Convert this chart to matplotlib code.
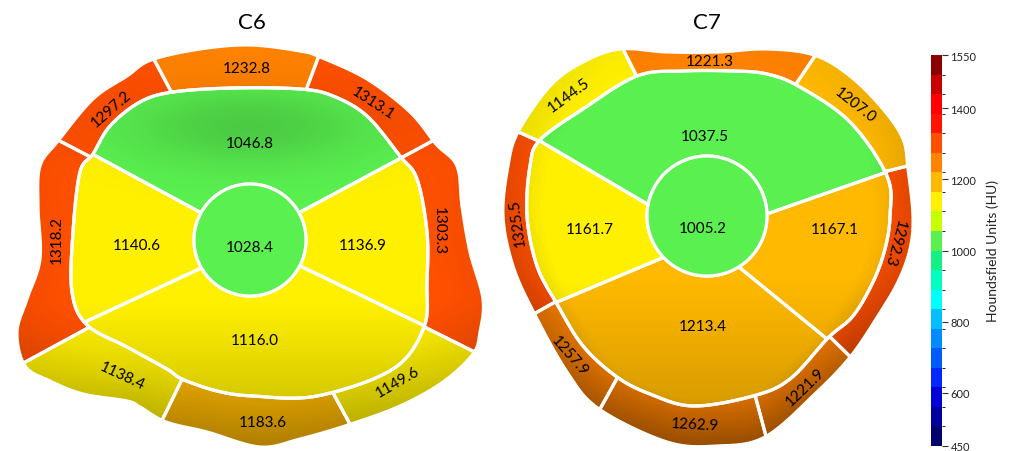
import numpy as np
import matplotlib
matplotlib.use("Agg")
import matplotlib.pyplot as plt
from matplotlib.colors import ListedColormap, BoundaryNorm
from matplotlib.patches import Polygon, Circle
from matplotlib.path import Path
import matplotlib.colorbar as mcolorbar

# ---------------------------------------------------------------------------
# Mean bone density (HU) per region of each vertebral body
# inner sectors: anterior (top), left, posterior (bottom), right
# outer ring: counter-clockwise starting from the upper right segment
# ---------------------------------------------------------------------------
levels = ["C6", "C7"]

c6_core = 1028.4
c6_inner = [1046.8, 1140.6, 1116.0, 1136.9]
c6_outer = [1313.1, 1232.8, 1297.2, 1318.2, 1138.4, 1183.6, 1149.6, 1303.3]

c7_core = 1005.2
c7_inner = [1037.5, 1161.7, 1213.4, 1167.1]
c7_outer = [1207.0, 1221.3, 1144.5, 1325.5, 1257.9, 1262.9, 1221.9, 1292.3]

hu_min, hu_max = 450, 1550
cbar_ticks = [450, 600, 800, 1000, 1200, 1400, 1550]
cbar_label = "Houndsfield Units (HU)"

# banded rainbow scale (20 bands, low -> high)
band_colors = [
    "#00006e", "#0000a0", "#0000d7", "#0028ff", "#005aff",
    "#008cff", "#00beff", "#00ffff", "#00ffbe", "#14f082",
    "#5af050", "#c8ff00", "#fff000", "#ffb900", "#ff8200",
    "#ff5000", "#ff1400", "#ff0000", "#c80000", "#8c0000",
]

# ---------------------------------------------------------------------------
# Outline geometry and annotation layout (figure pixel space, y downwards)
# ---------------------------------------------------------------------------
shapes = {
    "C6": dict(
        center=(250, 241), core_r=56, title_xy=(252, 23),
        outline=[(151, 61), (200, 50), (250, 46), (300, 52), (320, 58), (367, 80),
                 (410, 113), (436, 145), (457, 167), (462, 207), (470, 253),
                 (483, 300), (480, 333), (473, 355), (443, 383), (400, 407),
                 (348, 426), (300, 440), (260, 448), (207, 433), (166, 423),
                 (140, 408), (127, 402), (83, 395), (50, 382), (25, 367),
                 (17, 333), (27, 300), (40, 260), (38, 207), (40, 167),
                 (58, 142), (93, 100), (127, 77)],
        body=[(93, 155), (110, 127), (140, 103), (173, 93), (233, 89), (300, 90),
              (333, 97), (367, 117), (400, 157), (417, 180), (427, 233),
              (427, 283), (424, 328), (393, 370), (317, 397), (253, 397),
              (217, 392), (182, 380), (167, 370), (127, 348), (87, 326),
              (72, 293), (73, 233), (80, 173)],
        ring_cuts=[28.5, 69.5, 118.0, 152.5, 208.5, 244.0, 298.5, 333.5],
        core_cuts=[29.1, 150.9, 210.0, 332.6],
        body_cuts=[28.5, 151.4, 206.4, 333.8],
        ring_label_xy=[(373, 104), (247, 69), (111, 109), (57, 240),
                       (122, 377), (263, 423), (398, 383), (439, 231)],
        ring_label_rot=[-33, 0, 41, 90, -25, 0, 30, -90],
        inner_label_xy=[(250, 144), (137, 246), (255, 341), (363, 246)],
        core_label_xy=(250, 248),
        shade_low=0.26, shade_edge=0.06,
        shade_spot=(248, 128, 85, 28, 0.16),
    ),
    "C7": dict(
        center=(707, 217), core_r=60, title_xy=(707, 23),
        outline=[(620, 50), (667, 53), (717, 53), (767, 50), (814, 56), (850, 77),
                 (883, 110), (903, 140), (908, 170), (913, 217), (910, 250),
                 (898, 283), (878, 317), (851, 357), (817, 393), (765, 438),
                 (717, 447), (667, 443), (599, 410), (567, 373), (534, 314),
                 (513, 267), (503, 217), (508, 167), (518, 133), (550, 87),
                 (583, 63)],
        body=[(540, 141), (583, 110), (637, 77), (683, 72), (733, 72), (767, 75),
              (800, 88), (850, 123), (887, 177), (890, 217), (885, 250),
              (873, 283), (853, 317), (828, 339), (790, 380), (753, 397),
              (693, 407), (650, 395), (617, 378), (583, 347), (557, 305),
              (537, 267), (527, 217), (530, 167)],
        ring_cuts=[14.0, 56.0, 116.7, 156.0, 209.5, 241.0, 285.0, 315.5],
        core_cuts=[2.0, 169.0, 223.7, 302.0],
        body_cuts=[13.7, 155.8, 209.8, 314.3],
        ring_label_xy=[(855, 106), (710, 62), (569, 96), (517, 223),
                       (570, 356), (695, 425), (805, 387), (894, 243)],
        ring_label_rot=[-38, 0, 36, 98, -49, -3, 44, -105],
        inner_label_xy=[(705, 137), (590, 230), (703, 327), (835, 230)],
        core_label_xy=(703, 229),
        shade_low=0.22, shade_edge=0.2,
        shade_spot=None,
    ),
}
values = {
    "C6": dict(core=c6_core, inner=c6_inner, outer=c6_outer),
    "C7": dict(core=c7_core, inner=c7_inner, outer=c7_outer),
}


def closed_spline(pts, n=24):
    """Closed Catmull-Rom curve through the control points."""
    P = np.asarray(pts, float)
    m = len(P)
    t = np.linspace(0, 1, n, endpoint=False)[:, None]
    out = []
    for i in range(m):
        p0, p1, p2, p3 = P[i - 1], P[i], P[(i + 1) % m], P[(i + 2) % m]
        out.append(0.5 * (2 * p1 + (-p0 + p2) * t
                          + (2 * p0 - 5 * p1 + 4 * p2 - p3) * t ** 2
                          + (-p0 + 3 * p1 - 3 * p2 + p3) * t ** 3))
    return np.vstack(out)


def radial_profile(pts, center):
    cx, cy = center
    s = closed_spline(pts)
    dx, dy = s[:, 0] - cx, -(s[:, 1] - cy)
    th = np.degrees(np.arctan2(dy, dx)) % 360
    r = np.hypot(dx, dy)
    return lambda a: np.interp(np.asarray(a, float) % 360, th, r, period=360)


def polar_pts(center, ang, rad):
    cx, cy = center
    a = np.radians(ang)
    return np.column_stack([cx + rad * np.cos(a), cy - rad * np.sin(a)])


def arc(a0, a1, n=80):
    return np.linspace(a0, a1, n)


cmap = ListedColormap(band_colors)
bounds = np.linspace(hu_min, hu_max, len(band_colors) + 1)
norm = BoundaryNorm(bounds, cmap.N)

plt.rcParams["font.family"] = ["Lato", "DejaVu Sans"]

W, H = 1011, 452
fig = plt.figure(figsize=(W / 100, H / 100), dpi=100)
ax = fig.add_axes([0, 0, 1, 1])
ax.set_xlim(0, W)
ax.set_ylim(H, 0)
ax.axis("off")

label_kw = dict(ha="center", va="center", fontsize=11, color="black",
                zorder=6, rotation_mode="anchor")
edge_kw = dict(facecolor="none", edgecolor="white", linewidth=2.3,
               joinstyle="round", zorder=4)

for lvl in levels:
    g = shapes[lvl]
    v = values[lvl]
    c = g["center"]
    r_out = radial_profile(g["outline"], c)
    r_in = radial_profile(g["body"], c)
    r0 = g["core_r"]
    polys = []

    # outer cortical ring
    cuts = g["ring_cuts"]
    for k, val in enumerate(v["outer"]):
        a0 = cuts[k]
        a1 = cuts[(k + 1) % len(cuts)]
        if a1 <= a0:
            a1 += 360
        A = arc(a0, a1)
        poly = np.vstack([polar_pts(c, A, r_out(A)),
                          polar_pts(c, A[::-1], r_in(A[::-1]))])
        polys.append(poly)
        ax.add_patch(Polygon(poly, closed=True, facecolor=cmap(norm(val)),
                             edgecolor="none", zorder=2))
        ax.add_patch(Polygon(poly, closed=True, **edge_kw))
        ax.text(*g["ring_label_xy"][k], f"{val:.1f}",
                rotation=g["ring_label_rot"][k], **label_kw)

    # trabecular sectors between the core and the body outline
    cc, bc = g["core_cuts"], g["body_cuts"]
    for k, val in enumerate(v["inner"]):
        c0, c1 = cc[k], cc[(k + 1) % 4]
        b0, b1 = bc[k], bc[(k + 1) % 4]
        if c1 <= c0:
            c1 += 360
        if b1 <= b0:
            b1 += 360
        Ac = arc(c0, c1)
        Ab = arc(b1, b0)
        poly = np.vstack([polar_pts(c, Ac, np.full_like(Ac, r0)),
                          polar_pts(c, Ab, r_in(Ab))])
        polys.append(poly)
        ax.add_patch(Polygon(poly, closed=True, facecolor=cmap(norm(val)),
                             edgecolor="none", zorder=2))
        ax.add_patch(Polygon(poly, closed=True, **edge_kw))
        ax.text(*g["inner_label_xy"][k], f"{val:.1f}", **label_kw)

    # central core
    ax.add_patch(Circle(c, r0, facecolor=cmap(norm(v["core"])),
                        edgecolor="white", linewidth=2.3, zorder=4.5))
    ax.text(*g["core_label_xy"], f"{v['core']:.1f}", **label_kw)

    # soft lighting: darker towards the lower part and the lower/side rim
    allpts = np.vstack(polys)
    x0, y0 = allpts.min(axis=0) - 2
    x1, y1 = allpts.max(axis=0) + 2
    gx, gy = np.meshgrid(np.linspace(x0, x1, 320), np.linspace(y0, y1, 320))
    th = np.degrees(np.arctan2(-(gy - c[1]), gx - c[0]))
    ratio = np.hypot(gx - c[0], gy - c[1]) / r_out(th)
    low = np.clip((gy - c[1] - 60) / (y1 - c[1] - 60), 0, 1)
    side = np.clip((1 - np.sin(np.radians(th))) / 2, 0, 1) ** 0.7
    rim = np.clip((ratio - 0.8) / 0.2, 0, 1) * side
    alpha = g["shade_low"] * low ** 1.1 + g["shade_edge"] * rim
    if g["shade_spot"] is not None:
        sx0, sy0, ssx, ssy, amp = g["shade_spot"]
        alpha = alpha + amp * np.exp(-0.5 * (((gx - sx0) / ssx) ** 2
                                             + ((gy - sy0) / ssy) ** 2))
    shade = np.zeros(gx.shape + (4,))
    shade[..., 3] = np.clip(alpha, 0, 0.4)
    clip = Path.make_compound_path(*[Path(np.vstack([p, p[:1]])) for p in polys])
    im = ax.imshow(shade, extent=(x0, x1, y1, y0), origin="upper",
                   interpolation="bilinear", zorder=3)
    im.set_clip_path(clip, transform=ax.transData)

    ax.text(*g["title_xy"], lvl, ha="center", va="center", fontsize=16,
            color="black")

ax.set_xlim(0, W)
ax.set_ylim(H, 0)

# colour scale
cax = fig.add_axes([931 / W, 5 / H, 11 / W, 391 / H])
cb = mcolorbar.ColorbarBase(cax, cmap=cmap, norm=norm, boundaries=bounds,
                            ticks=cbar_ticks, orientation="vertical")
cb.outline.set_visible(False)
cax.tick_params(axis="y", length=4, width=0.8, color="#333333", labelsize=8,
                pad=2, labelcolor="#222222")
cb.set_label(cbar_label, fontsize=10, labelpad=7, color="#222222")

fig.savefig("out.png", dpi=100)
